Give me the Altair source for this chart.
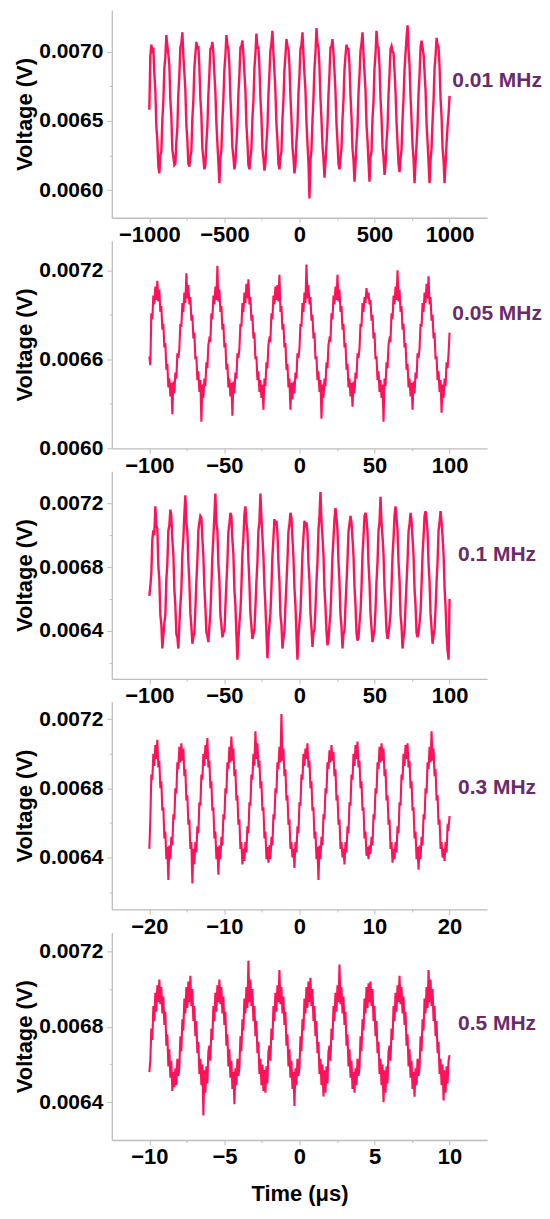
import altair as alt
import numpy as np
import pandas as pd

# Voltages, in units of 10 microvolts (705 -> 0.00705 V)
v_001 = [
    658, 697, 705, 699, 703, 684, 672, 646, 636, 617, 612, 625, 628, 651, 664,
    688, 696, 712, 704, 698, 690, 665, 653, 629, 624, 618, 619, 635, 645, 670,
    683, 703, 706, 714, 697, 685, 672, 647, 636, 619, 617, 624, 628, 652, 665,
    688, 698, 707, 702, 704, 689, 666, 654, 630, 623, 615, 618, 634, 646, 669,
    684, 702, 703, 707, 699, 684, 671, 648, 634, 620, 605, 623, 629, 650, 666,
    687, 697, 712, 705, 702, 690, 667, 651, 631, 624, 615, 620, 633, 647, 670,
    683, 703, 704, 708, 698, 685, 672, 647, 635, 618, 615, 623, 630, 652, 664,
    688, 698, 713, 703, 703, 689, 666, 653, 630, 623, 614, 619, 634, 645, 669,
    684, 701, 706, 715, 699, 686, 671, 648, 636, 619, 615, 624, 628, 651, 665,
    687, 697, 709, 704, 702, 690, 667, 652, 631, 624, 612, 618, 635, 646, 670,
    683, 702, 705, 714, 698, 684, 672, 649, 634, 620, 594, 622, 629, 650, 666,
    688, 699, 717, 706, 703, 689, 666, 651, 632, 623, 609, 620, 633, 647, 669,
    684, 703, 704, 709, 699, 686, 671, 648, 635, 619, 615, 623, 630, 651, 665,
    687, 697, 705, 702, 702, 690, 668, 653, 630, 622, 606, 619, 634, 646, 670,
    683, 701, 706, 714, 698, 685, 672, 647, 636, 620, 606, 624, 628, 652, 664,
    688, 698, 715, 704, 703, 689, 666, 652, 631, 624, 611, 618, 635, 645, 669,
    684, 702, 704, 700, 699, 686, 671, 649, 634, 619, 613, 623, 629, 651, 666,
    687, 699, 710, 719, 702, 690, 667, 651, 632, 623, 605, 620, 633, 647, 670,
    683, 703, 708, 703, 698, 685, 672, 648, 635, 620, 605, 622, 630, 650, 665,
    688, 697, 710, 705, 703, 689, 666, 653, 630, 622, 605, 619, 634, 646, 655,
    668,
]

v_005 = [
    662, 656, 691, 687, 703, 697, 709, 700, 713, 699, 707, 692, 696, 680, 684, 668, 671, 653, 657, 641, 647, 635, 644, 623, 645, 637, 651, 647, 664, 661,
    667, 684, 682, 698, 692, 705, 698, 718, 701, 710, 697, 702, 686, 690, 674, 678, 660, 662, 646, 652, 638, 646, 618, 643, 634, 647, 642, 658, 654, 670,
    674, 673, 691, 687, 703, 697, 709, 700, 723, 699, 707, 692, 696, 680, 684, 668, 671, 653, 657, 641, 647, 635, 644, 622, 645, 637, 651, 647, 664, 661,
    667, 684, 682, 698, 692, 705, 698, 711, 701, 714, 697, 702, 686, 690, 674, 678, 660, 662, 646, 652, 638, 646, 634, 643, 626, 647, 642, 658, 654, 670,
    674, 673, 691, 687, 703, 697, 709, 700, 710, 699, 717, 692, 696, 680, 684, 668, 671, 653, 657, 641, 647, 626, 644, 633, 645, 637, 651, 647, 664, 661,
    667, 684, 682, 698, 692, 705, 698, 724, 701, 710, 697, 702, 686, 690, 674, 678, 660, 662, 646, 652, 638, 646, 620, 643, 634, 647, 642, 658, 654, 670,
    674, 673, 691, 687, 703, 697, 709, 700, 717, 699, 707, 692, 696, 680, 684, 668, 671, 653, 657, 641, 647, 635, 644, 628, 645, 637, 651, 647, 664, 661,
    667, 684, 682, 698, 692, 702, 698, 708, 701, 705, 697, 700, 686, 690, 674, 678, 660, 662, 646, 652, 638, 646, 634, 643, 618, 647, 642, 658, 654, 670,
    674, 673, 691, 687, 703, 697, 709, 700, 720, 699, 707, 692, 696, 680, 684, 668, 671, 653, 657, 641, 647, 635, 644, 626, 645, 637, 651, 647, 664, 661,
    667, 684, 682, 698, 692, 705, 698, 711, 701, 716, 697, 702, 686, 690, 674, 678, 660, 662, 646, 652, 638, 646, 624, 643, 634, 647, 642, 658, 654, 664,
    678,
]

v_01 = [
    662, 668, 676, 697, 703, 700, 718, 706, 704, 681, 672, 650, 644, 629, 637,
    645, 650, 672, 682, 703, 706, 716, 712, 697, 688, 666, 656, 638, 636, 629,
    644, 656, 666, 688, 698, 713, 725, 708, 702, 683, 671, 651, 643, 632, 636,
    639, 654, 671, 684, 703, 708, 712, 711, 698, 687, 667, 655, 639, 637, 633,
    643, 651, 668, 687, 699, 712, 726, 707, 703, 682, 672, 650, 644, 636, 639,
    640, 655, 670, 683, 702, 707, 714, 712, 697, 688, 666, 656, 638, 622, 635,
    645, 652, 668, 688, 698, 713, 718, 708, 702, 684, 670, 651, 643, 635, 638,
    641, 655, 671, 683, 703, 708, 726, 711, 699, 687, 668, 655, 639, 623, 636,
    644, 651, 667, 687, 698, 710, 706, 709, 701, 683, 671, 650, 644, 629, 635,
    640, 656, 670, 684, 702, 707, 714, 711, 698, 686, 667, 656, 638, 622, 637,
    645, 652, 669, 688, 699, 709, 705, 708, 702, 682, 672, 651, 642, 630, 639,
    641, 654, 671, 683, 703, 712, 727, 709, 699, 688, 666, 655, 640, 631, 634,
    644, 651, 668, 687, 698, 710, 717, 711, 703, 683, 671, 650, 643, 629, 638,
    640, 656, 670, 684, 702, 707, 712, 708, 698, 687, 668, 656, 639, 634, 636,
    645, 652, 667, 688, 699, 712, 714, 710, 702, 682, 670, 651, 642, 633, 637,
    641, 654, 671, 683, 703, 708, 724, 708, 699, 688, 667, 655, 640, 635, 638,
    644, 651, 668, 687, 698, 712, 718, 711, 703, 683, 672, 650, 643, 629, 636,
    640, 656, 670, 684, 702, 707, 714, 709, 698, 687, 666, 656, 639, 636, 639,
    645, 652, 669, 688, 699, 712, 715, 710, 702, 682, 671, 651, 642, 632, 637,
    641, 654, 671, 683, 703, 708, 715, 708, 699, 688, 667, 655, 638, 628, 622,
    660,
]

v_03 = [
    645, 662, 688, 685, 700, 693, 705, 697, 708, 692, 696, 680, 684, 667, 669, 651, 655, 639, 646, 627, 647, 639, 652, 647, 665,
    662, 680, 677, 695, 691, 704, 695, 706, 696, 703, 687, 691, 673, 676, 659, 662, 645, 649, 625, 645, 636, 649, 643, 658, 654,
    672, 670, 688, 685, 700, 693, 705, 697, 709, 692, 696, 680, 684, 667, 669, 651, 655, 639, 646, 630, 647, 639, 652, 647, 665,
    662, 680, 677, 695, 691, 704, 695, 710, 696, 703, 687, 691, 673, 676, 659, 662, 645, 649, 636, 645, 638, 649, 643, 658, 654,
    672, 670, 688, 685, 700, 693, 713, 697, 706, 692, 696, 680, 684, 667, 669, 651, 655, 639, 646, 637, 647, 639, 652, 647, 665,
    662, 680, 677, 695, 691, 704, 695, 723, 696, 703, 687, 691, 673, 676, 659, 662, 645, 649, 640, 645, 634, 649, 643, 658, 654,
    672, 670, 688, 685, 700, 693, 703, 697, 706, 692, 696, 680, 684, 667, 669, 651, 655, 639, 646, 627, 647, 639, 652, 647, 665,
    662, 680, 677, 695, 691, 702, 695, 705, 696, 701, 687, 691, 673, 676, 659, 662, 645, 649, 640, 645, 636, 649, 643, 658, 654,
    672, 670, 688, 685, 700, 693, 705, 697, 707, 692, 696, 680, 684, 667, 669, 651, 655, 641, 646, 639, 647, 642, 652, 647, 665,
    662, 680, 677, 695, 691, 704, 695, 706, 696, 703, 687, 691, 673, 676, 659, 662, 645, 649, 637, 645, 639, 649, 643, 658, 654,
    672, 670, 688, 685, 700, 693, 705, 697, 706, 692, 696, 680, 684, 667, 669, 651, 655, 639, 646, 633, 647, 639, 652, 647, 665,
    662, 680, 677, 695, 691, 704, 695, 713, 696, 703, 687, 691, 673, 676, 659, 662, 645, 649, 640, 645, 638, 649, 643, 658, 657,
    664,
]

v_05 = [
    656, 662, 679, 673, 691, 683, 698, 688, 702, 693, 705, 692, 701, 687, 696, 681, 688, 670, 676, 659, 668, 653, 662, 646, 656, 648, 658, 649, 663, 654,
    658, 675, 667, 684, 678, 695, 687, 701, 690, 704, 693, 707, 691, 700, 683, 691, 675, 683, 666, 672, 655, 663, 649, 660, 633, 657, 645, 659, 650, 667,
    670, 662, 679, 673, 691, 683, 698, 688, 702, 693, 705, 692, 701, 687, 696, 681, 688, 670, 676, 659, 668, 653, 662, 647, 656, 639, 658, 649, 663, 654,
    658, 675, 667, 684, 678, 695, 687, 701, 690, 715, 693, 705, 691, 700, 683, 691, 675, 683, 666, 672, 655, 663, 649, 660, 646, 657, 645, 659, 650, 667,
    670, 662, 679, 673, 691, 683, 698, 688, 702, 693, 710, 692, 701, 687, 696, 681, 688, 670, 676, 659, 668, 653, 662, 647, 656, 638, 658, 649, 663, 654,
    658, 675, 667, 684, 678, 695, 687, 701, 690, 704, 693, 706, 691, 700, 683, 691, 675, 683, 666, 672, 655, 663, 649, 660, 643, 657, 645, 659, 650, 667,
    670, 662, 679, 673, 691, 683, 698, 688, 702, 693, 713, 692, 701, 687, 696, 681, 688, 670, 676, 659, 668, 653, 662, 647, 656, 645, 658, 649, 663, 654,
    658, 675, 667, 684, 678, 695, 687, 701, 690, 703, 693, 704, 691, 700, 683, 691, 675, 683, 666, 672, 655, 663, 649, 660, 640, 657, 645, 659, 650, 667,
    670, 662, 679, 673, 691, 683, 698, 688, 702, 693, 707, 692, 701, 687, 696, 681, 688, 670, 676, 659, 668, 653, 662, 647, 656, 643, 658, 649, 663, 654,
    658, 675, 667, 684, 678, 695, 687, 701, 690, 710, 693, 705, 691, 700, 683, 691, 675, 683, 666, 672, 655, 663, 649, 660, 641, 657, 645, 659, 650, 662,
    665,
]

series = [v_001, v_005, v_01, v_03, v_05]
freq_labels = ["0.01 MHz", "0.05 MHz", "0.1 MHz", "0.3 MHz", "0.5 MHz"]
t_ranges = [(-1000, 1000), (-100, 100), (-100, 100), (-20, 20), (-10, 10)]
x_domains = [(-1250, 1250), (-125, 125), (-125, 125), (-25, 25), (-12.5, 12.5)]
x_major = [
    [-1000, -500, 0, 500, 1000],
    [-100, -50, 0, 50, 100],
    [-100, -50, 0, 50, 100],
    [-20, -10, 0, 10, 20],
    [-10, -5, 0, 5, 10],
]
x_minor = [
    [-750, -250, 250, 750],
    [-75, -25, 25, 75],
    [-75, -25, 25, 75],
    [-15, -5, 5, 15],
    [-7.5, -2.5, 2.5, 7.5],
]
y_domains = [(0.0058, 0.0073), (0.0060, 0.0074), (0.0061, 0.0074), (0.0061, 0.0073), (0.0062, 0.0073)]
y_major = [
    [0.0060, 0.0065, 0.0070],
    [0.0060, 0.0066, 0.0072],
    [0.0064, 0.0068, 0.0072],
    [0.0064, 0.0068, 0.0072],
    [0.0064, 0.0068, 0.0072],
]
y_minor = [
    [0.00625, 0.00675],
    [0.0063, 0.0069],
    [0.0062, 0.0066, 0.0070],
    [0.0062, 0.0066, 0.0070],
    [0.0066, 0.0070],
]

UNIT = 1e-5
LINE_COLOR = "#ff1257"
LABEL_COLOR = "#6b2a6b"
AXIS_COLOR = "#bdbdbd"
FONT = "Liberation Sans"
W, H = 376, 208
label_pos_y = [71, 73, 84, 86, 92]
stroke_widths = [2.4, 2.1, 2.4, 2.1, 2.1]


def js_list(vals, fmt):
    return "[" + ",".join(fmt(v) for v in vals) + "]"


panels = []
for i in range(5):
    vals = series[i]
    t0, t1 = t_ranges[i]
    df = pd.DataFrame({"t": np.linspace(t0, t1, len(vals)), "v": np.array(vals) * UNIT})

    xmaj = js_list(x_major[i], lambda v: repr(float(v)))
    ymaj = js_list(y_major[i], lambda v: "'" + format(v, ".4f") + "'")
    last = i == 4

    x_axis = alt.Axis(
        values=sorted(x_major[i] + x_minor[i]),
        format="d",
        labelExpr=f"indexof({xmaj}, datum.value) >= 0 ? datum.label : ''",
        tickSize={"condition": {"test": f"indexof({xmaj}, datum.value) >= 0", "value": 5}, "value": 2.5},
        title="Time (μs)" if last else "",
        titlePadding=16,
        labelPadding=2,
        labelFontSize=22,
    )
    y_axis = alt.Axis(
        values=sorted(y_major[i] + y_minor[i]),
        format=".4f",
        labelExpr=f"indexof({ymaj}, datum.label) >= 0 ? datum.label : ''",
        tickSize={"condition": {"test": f"indexof({ymaj}, format(datum.value, '.4f')) >= 0", "value": 5}, "value": 2.5},
        title="Voltage (V)",
        titlePadding=2,
        labelPadding=4,
        labelFontSize=21,
    )

    line = alt.Chart(df).mark_line(color=LINE_COLOR, strokeWidth=stroke_widths[i]).encode(
        x=alt.X("t:Q", scale=alt.Scale(domain=list(x_domains[i]), nice=False, zero=False), axis=x_axis),
        y=alt.Y("v:Q", scale=alt.Scale(domain=list(y_domains[i]), nice=False, zero=False), axis=y_axis),
    )
    txt = alt.Chart(pd.DataFrame({"label": [freq_labels[i]]})).mark_text(
        align="center", baseline="middle", font=FONT, fontSize=21, fontWeight="bold", color=LABEL_COLOR
    ).encode(
        text="label:N",
        x=alt.value(386),
        y=alt.value(label_pos_y[i]),
    )
    panels.append(alt.layer(line, txt).properties(width=W, height=H))

chart = alt.vconcat(*panels, spacing=23, bounds="flush").properties(
    padding={"left": 5, "top": 1, "right": 0, "bottom": 0}
).configure_view(strokeWidth=0).configure_axis(
    grid=False,
    domainColor=AXIS_COLOR,
    domainWidth=1.3,
    tickColor=AXIS_COLOR,
    tickWidth=1,
    labelFont=FONT,
    labelFontWeight="bold",
    labelColor="#000000",
    titleFont=FONT,
    titleFontSize=22,
    titleFontWeight="bold",
    titleColor="#000000",
    labelFlush=False,
    labelOverlap=False,
)

chart.save("out.html", embed_options={"renderer": "svg", "actions": False})
